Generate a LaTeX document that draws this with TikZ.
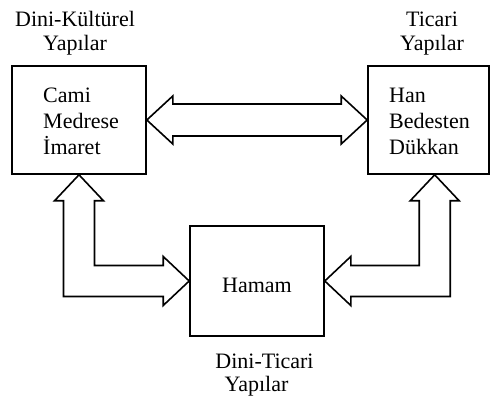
\documentclass[tikz,border=0pt]{standalone}
\usepackage{fontspec}
\setmainfont{Liberation Serif}
\usetikzlibrary{calc}
\begin{document}
\begin{tikzpicture}[x=1pt,y=-1pt,
  box/.style={draw, line width=1.6pt, inner sep=0pt},
  fatarrow/.style={draw, line width=1.6pt, line join=miter, fill=white},
  boxtext/.style={inner sep=0pt, align=left, font=\fontsize{22}{26}\selectfont},
  lbl/.style={inner sep=0pt, align=center, font=\fontsize{22}{23.5}\selectfont}]
\useasboundingbox (0,0) rectangle (491,396);
% boxes
\node[box, minimum width=134pt, minimum height=108pt] (L) at (79,120) {};
\node[box, minimum width=121pt, minimum height=108pt] (R) at (428.5,120) {};
\node[box, minimum width=134pt, minimum height=110pt] (M) at (257,281) {};
% box texts
\node[boxtext, anchor=base west] (Lt) at (43,154.3) {Cami\\Medrese\\İmaret};
\node[boxtext, anchor=base west] (Rt) at (389,154.3) {Han\\Bedesten\\Dükkan};
\node[boxtext, anchor=base] (Mt) at (257,292) {Hamam};
% labels
\node[lbl, anchor=base] (Ll) at (75,50.2) {Dini-Kültürel\\Yapılar};
\node[lbl, anchor=base] (Rl) at (432,50.2) {Ticari\\Yapılar};
\node[lbl, anchor=base] (Ml) at (264.5,391.5) {Dini-Ticari\\\hspace*{-16pt}Yapılar};
% horizontal double arrow
\draw[fatarrow] (L.east) -- ++(26,-24) -- ++(0,8) -- ($(R.west)+(-26,-16)$) -- ++(0,-8)
  -- (R.west) -- ++(-26,24) -- ++(0,-8) -- ($(L.east)+(26,16)$) -- ++(0,8) -- cycle;
% left L arrow
\path (L.south) ++(15.5,0) coordinate (li) ++(-31,0) coordinate (lo);
\path (M.west) ++(0,-15.5) coordinate (hi) ++(0,31) coordinate (ho);
\draw[fatarrow] (L.south) -- ++(24.5,26) -- ++(-9,0) -- (li |- hi)
  -- ($(M.west)+(-26,-15.5)$) -- ++(0,-9) -- (M.west) -- ++(-26,24.5) -- ++(0,-9)
  -- (lo |- ho) -- ($(L.south)+(-15.5,26)$) -- ++(-9,0) -- cycle;
% right L arrow
\coordinate (T) at ($(R.south west)+(67.5,0)$);
\path (T) ++(15.5,0) coordinate (ro) ++(-31,0) coordinate (ri);
\path (M.east) ++(0,-15.5) coordinate (rhi) ++(0,31) coordinate (rho);
\draw[fatarrow] (T) -- ++(24.5,26) -- ++(-9,0) -- (ro |- rho)
  -- ($(M.east)+(26,15.5)$) -- ++(0,9) -- (M.east) -- ++(26,-24.5) -- ++(0,9)
  -- (ri |- rhi) -- ($(T)+(-15.5,26)$) -- ++(-9,0) -- cycle;
\end{tikzpicture}
\end{document}
